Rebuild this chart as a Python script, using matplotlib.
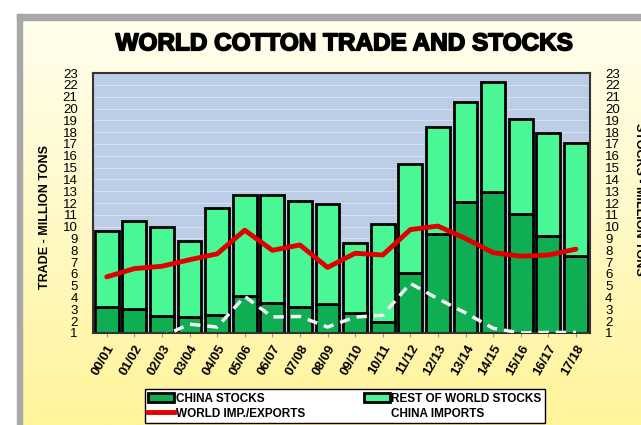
import numpy as np
import matplotlib
matplotlib.use("Agg")
import matplotlib.pyplot as plt
import matplotlib.patheffects as pe
from matplotlib.patches import Patch, Rectangle
from matplotlib.lines import Line2D

seasons = ["00/01", "01/02", "02/03", "03/04", "04/05", "05/06", "06/07", "07/08", "08/09",
           "09/10", "10/11", "11/12", "12/13", "13/14", "14/15", "15/16", "16/17", "17/18"]
china_stocks = [3.2, 3.0, 2.4, 2.35, 2.5, 4.1, 3.5, 3.2, 3.45, 2.65, 1.9, 6.1, 9.4, 12.1, 12.9, 11.1, 9.2, 7.5]
total_stocks = [9.65, 10.5, 9.95, 8.8, 11.55, 12.7, 12.7, 12.2, 11.9, 8.6, 10.2, 15.3, 18.45, 20.55, 22.25, 19.15, 17.95, 17.05]
world_trade = [5.75, 6.45, 6.65, 7.2, 7.7, 9.7, 8.0, 8.45, 6.55, 7.75, 7.6, 9.75, 10.05, 9.0, 7.8, 7.5, 7.6, 8.1]
china_imports = [0.05, 0.1, 0.7, 1.75, 1.5, 4.1, 2.35, 2.4, 1.5, 2.35, 2.5, 5.2, 3.9, 2.7, 1.4, 1.0, 1.05, 1.05]
y_ticks = list(range(1, 24))

rest_stocks = [t - c for t, c in zip(total_stocks, china_stocks)]
x = np.arange(len(seasons))

dark_green = "#0fae52"
light_green = "#4af795"

fig = plt.figure(figsize=(6.41, 4.25), dpi=100)

# background gradient + grey frame
bg = fig.add_axes([0, 0, 1, 1], zorder=-5)
grad = np.linspace(0, 1, 256).reshape(-1, 1)
cmap = matplotlib.colors.LinearSegmentedColormap.from_list("bg", ["#fffff2", "#fff9c8", "#fff49a"])
bg.imshow(grad, aspect="auto", cmap=cmap, extent=[0, 1, 0, 1], origin="upper")
bg.add_patch(Rectangle((0, 0.968), 1, 0.032, color="white"))
bg.add_patch(Rectangle((0, 0), 0.026, 1, color="white"))
bg.add_patch(Rectangle((0.026, 0.953), 0.974, 0.015, color="#a8a8a8"))
bg.add_patch(Rectangle((0.026, 0), 0.009, 0.968, color="#a8a8a8"))
bg.set_xlim(0, 1)
bg.set_ylim(0, 1)
bg.axis("off")

ax = fig.add_axes([0.145, 0.2165, 0.775, 0.6115])
ax.set_facecolor("#bccde6")
for t in y_ticks:
    ax.axhline(t, color="white", lw=0.6, alpha=0.45, zorder=0)

ax.bar(x, china_stocks, width=0.86, color=dark_green, edgecolor="black", linewidth=2, zorder=2)
ax.bar(x, rest_stocks, bottom=china_stocks, width=0.86, color=light_green,
       edgecolor="black", linewidth=2, zorder=2)
ax.plot(x, world_trade, color="#e00000", lw=3.5, zorder=3, solid_capstyle="round")
ax.plot(x, china_imports, color="#f2f2f2", lw=2.5, ls=(0, (3, 2)), zorder=3)

ax.set_xlim(-0.5, len(seasons) - 0.5)
ax.set_ylim(1, 23)
ax.set_yticks(y_ticks)
ax.set_yticklabels([str(t) for t in y_ticks], fontsize=9.5, family="Liberation Sans")
ax.tick_params(axis="y", length=0, pad=11, right=True, labelright=True)
ax.set_xticks(x)
ax.set_xticklabels(seasons, rotation=60, ha="right", rotation_mode="anchor",
                   fontsize=9.5, fontweight="bold", family="Liberation Sans")
ax.tick_params(axis="x", length=3, color="#999999", pad=4)
for s in ax.spines.values():
    s.set_color("#333333")
    s.set_linewidth(1.5)

fig.text(0.536, 0.897, "WORLD COTTON TRADE AND STOCKS", ha="center", va="center",
         fontsize=17.5, fontweight="bold", family="Liberation Sans",
         path_effects=[pe.withStroke(linewidth=1.2, foreground="black")])
fig.text(0.07, 0.49, "TRADE - MILLION TONS", rotation=90, ha="center", va="center",
         fontsize=9, fontweight="bold", family="Liberation Sans")
fig.text(0.997, 0.53, "STOCKS - MILLION TONS", rotation=270, ha="center", va="center",
         fontsize=9, fontweight="bold", family="Liberation Sans")

handles = [
    Patch(facecolor=dark_green, edgecolor="black", linewidth=2),
    Line2D([0], [0], color="#e00000", lw=3.5),
    Patch(facecolor=light_green, edgecolor="black", linewidth=2),
    Line2D([0], [0], color="white", lw=2.5, ls=(0, (3, 2))),
]
labels = ["CHINA STOCKS", "WORLD IMP./EXPORTS", "REST OF WORLD STOCKS", "CHINA IMPORTS"]
leg = fig.legend(handles, labels, ncol=2, loc="lower left", bbox_to_anchor=(0.226, 0.004, 0.624, 0.083),
                 mode="expand", fancybox=False, edgecolor="black", framealpha=1,
                 prop={"family": "Liberation Sans", "weight": "bold", "size": 8.5},
                 handlelength=2.2, handleheight=0.8, handletextpad=0.1, labelspacing=0.25,
                 borderpad=0.3, borderaxespad=0, columnspacing=2)
leg.get_frame().set_linewidth(1)

fig.savefig("out.png", dpi=100)
